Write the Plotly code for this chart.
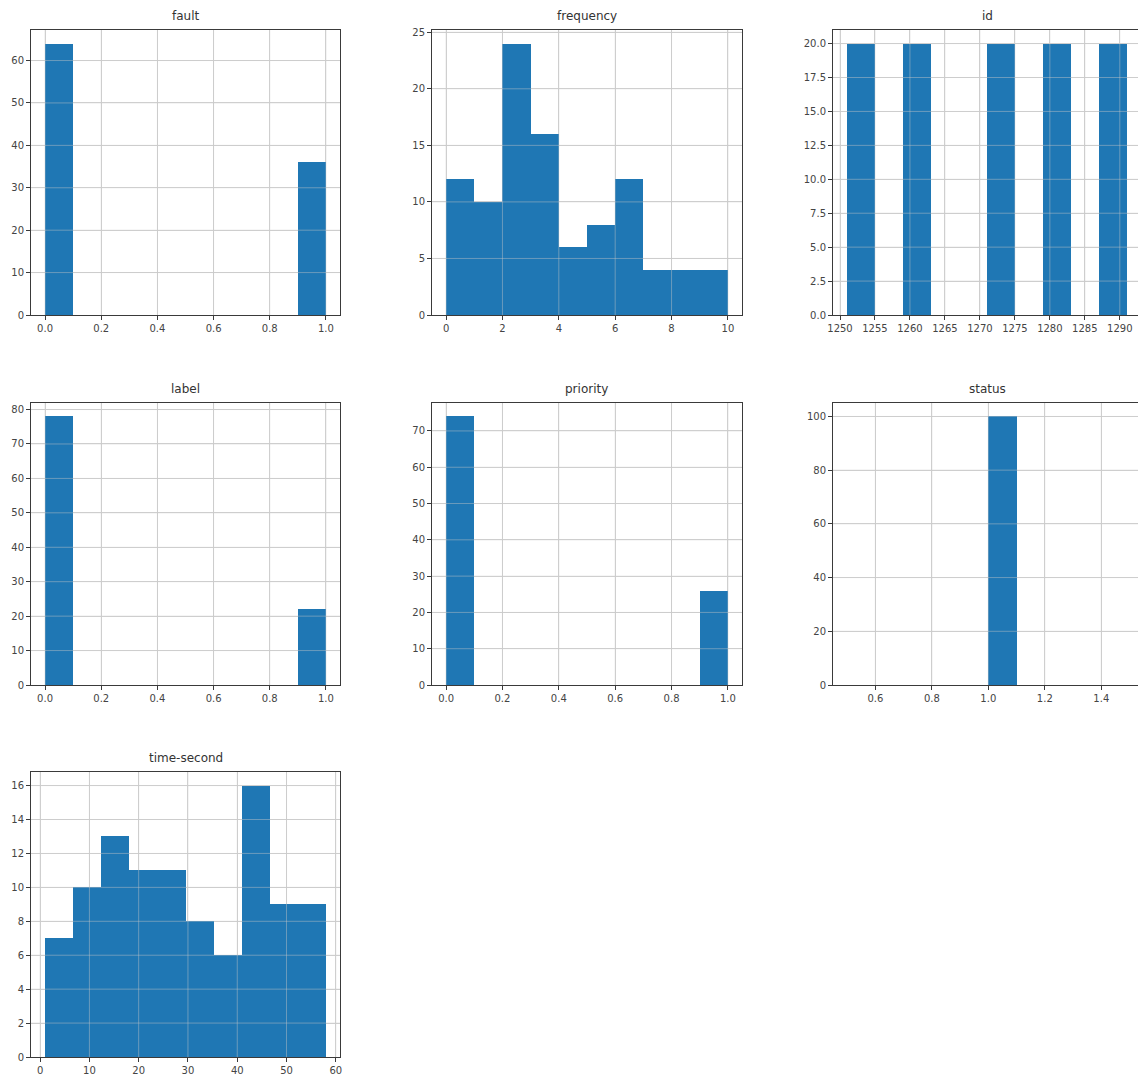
import math
import plotly.graph_objects as go

# ---- data (histogram bin edges and counts per column) ----
fault_edges = [0.0, 0.1, 0.2, 0.3, 0.4, 0.5, 0.6, 0.7, 0.8, 0.9, 1.0]
fault_counts = [64, 0, 0, 0, 0, 0, 0, 0, 0, 36]

frequency_edges = [0, 1, 2, 3, 4, 5, 6, 7, 8, 9, 10]
frequency_counts = [12, 10, 24, 16, 6, 8, 12, 4, 4, 4]

id_edges = [1251, 1255, 1259, 1263, 1267, 1271, 1275, 1279, 1283, 1287, 1291]
id_counts = [20, 0, 20, 0, 0, 20, 0, 20, 0, 20]

label_edges = [0.0, 0.1, 0.2, 0.3, 0.4, 0.5, 0.6, 0.7, 0.8, 0.9, 1.0]
label_counts = [78, 0, 0, 0, 0, 0, 0, 0, 0, 22]

priority_edges = [0.0, 0.1, 0.2, 0.3, 0.4, 0.5, 0.6, 0.7, 0.8, 0.9, 1.0]
priority_counts = [74, 0, 0, 0, 0, 0, 0, 0, 0, 26]

status_edges = [0.5, 0.6, 0.7, 0.8, 0.9, 1.0, 1.1, 1.2, 1.3, 1.4, 1.5]
status_counts = [0, 0, 0, 0, 0, 100, 0, 0, 0, 0]

time_edges = [1.0, 6.7, 12.4, 18.1, 23.8, 29.5, 35.2, 40.9, 46.6, 52.3, 58.0]
time_counts = [7, 10, 13, 11, 11, 8, 6, 16, 9, 9]

titles = ["fault", "frequency", "id", "label", "priority", "status", "time-second"]

# ---- layout geometry ----
W, H = 1138, 1082
col_px = [(31, 340), (432, 742), (833, 1138)]
row_px = [(30, 315), (403, 685), (772, 1057)]


def xdom(c):
    a, b = col_px[c]
    return [a / W, min(b / W, 1.0)]


def ydom(r):
    a, b = row_px[r]
    return [1 - b / H, 1 - a / H]


panels = [
    # edges, counts, row, col, xrange, xdtick, xtick0, xfmt, yrange, ydtick, yfmt
    (fault_edges, fault_counts, 0, 0, [-0.05, 1.05], 0.2, 0, ".1f", [0, 67.2], 10, ""),
    (frequency_edges, frequency_counts, 0, 1, [-0.5, 10.5], 2, 0, "", [0, 25.2], 5, ""),
    (id_edges, id_counts, 0, 2, [1249, 1292.6], 5, 1250, "", [0, 21], 2.5, ".1f"),
    (label_edges, label_counts, 1, 0, [-0.05, 1.05], 0.2, 0, ".1f", [0, 81.9], 10, ""),
    (priority_edges, priority_counts, 1, 1, [-0.05, 1.05], 0.2, 0, ".1f", [0, 77.7], 10, ""),
    (status_edges, status_counts, 1, 2, [0.45, 1.53], 0.2, 0, ".1f", [0, 105], 20, ""),
    (time_edges, time_counts, 2, 0, [-1.85, 60.85], 10, 0, "", [0, 16.8], 2, ""),
]

BAR = "#1f77b4"
AX = "#3a3a3a"
GRID = "#d2d2d2"
GRID_OVER = "rgba(200,200,200,0.45)"
FONT = "DejaVu Sans"


def tick_values(lo, hi, t0, dt):
    k = math.ceil((lo - t0) / dt - 1e-9)
    vals = []
    v = t0 + k * dt
    while v <= hi + 1e-9:
        vals.append(round(v, 6))
        k += 1
        v = t0 + k * dt
    return vals


fig = go.Figure()
layout = dict(
    width=W, height=H,
    margin=dict(l=0, r=0, t=0, b=0),
    paper_bgcolor="white", plot_bgcolor="white",
    showlegend=False, bargap=0,
    font=dict(family=FONT, size=10, color="#444"),
    annotations=[], shapes=[],
)

for i, (edges, counts, r, c, xr, xdt, xt0, xf, yr, ydt, yf) in enumerate(panels):
    n = i + 1
    xa = "x" if n == 1 else f"x{n}"
    ya = "y" if n == 1 else f"y{n}"
    lefts = edges[:-1]
    widths = [edges[k + 1] - edges[k] for k in range(len(edges) - 1)]
    fig.add_trace(go.Bar(
        x=lefts, y=counts, width=widths, offset=0,
        marker=dict(color=BAR, line=dict(width=0)),
        xaxis=xa, yaxis=ya, hoverinfo="x+y",
    ))
    right_cut = (c == 2)
    layout["xaxis" if n == 1 else f"xaxis{n}"] = dict(
        domain=xdom(c), anchor=ya, range=xr, automargin=False,
        tickmode="linear", tick0=xt0, dtick=xdt, tickformat=xf,
        showgrid=True, gridcolor=GRID, gridwidth=1,
        showline=True, linecolor=AX, linewidth=1, mirror=True,
        ticks="outside", ticklen=4, tickcolor=AX, zeroline=False,
        layer="above traces",
        tickfont=dict(family=FONT, size=10, color="#444"),
    )
    layout["yaxis" if n == 1 else f"yaxis{n}"] = dict(
        domain=ydom(r), anchor=xa, range=yr, automargin=False,
        tickmode="linear", tick0=0, dtick=ydt, tickformat=yf,
        showgrid=True, gridcolor=GRID, gridwidth=1,
        showline=True, linecolor=AX, linewidth=1,
        mirror=(False if right_cut else True),
        ticks="outside", ticklen=4, tickcolor=AX, zeroline=False,
        layer="above traces",
        tickfont=dict(family=FONT, size=10, color="#444"),
    )
    # grid lines drawn over the bars (as matplotlib does)
    for v in tick_values(xr[0], xr[1], xt0, xdt):
        layout["shapes"].append(dict(
            type="line", xref=xa, yref=f"{ya} domain", x0=v, x1=v, y0=0, y1=1,
            line=dict(color=GRID_OVER, width=1), layer="above"))
    for v in tick_values(yr[0], yr[1], 0, ydt):
        if v == 0:
            continue
        layout["shapes"].append(dict(
            type="line", xref=f"{xa} domain", yref=ya, x0=0, x1=1, y0=v, y1=v,
            line=dict(color=GRID_OVER, width=1), layer="above"))
    cx = (col_px[c][0] + (col_px[c][0] + 309)) / 2 / W
    layout["annotations"].append(dict(
        text=titles[i], xref="paper", yref="paper",
        x=cx, y=ydom(r)[1], xanchor="center", yanchor="bottom",
        yshift=5, showarrow=False,
        font=dict(family=FONT, size=12, color="#333"),
    ))

fig.update_layout(**layout)
fig.write_html(
    "out.html",
    config={"displayModeBar": False},
    post_script="document.body.style.margin='0';document.body.style.overflow='hidden';",
)
